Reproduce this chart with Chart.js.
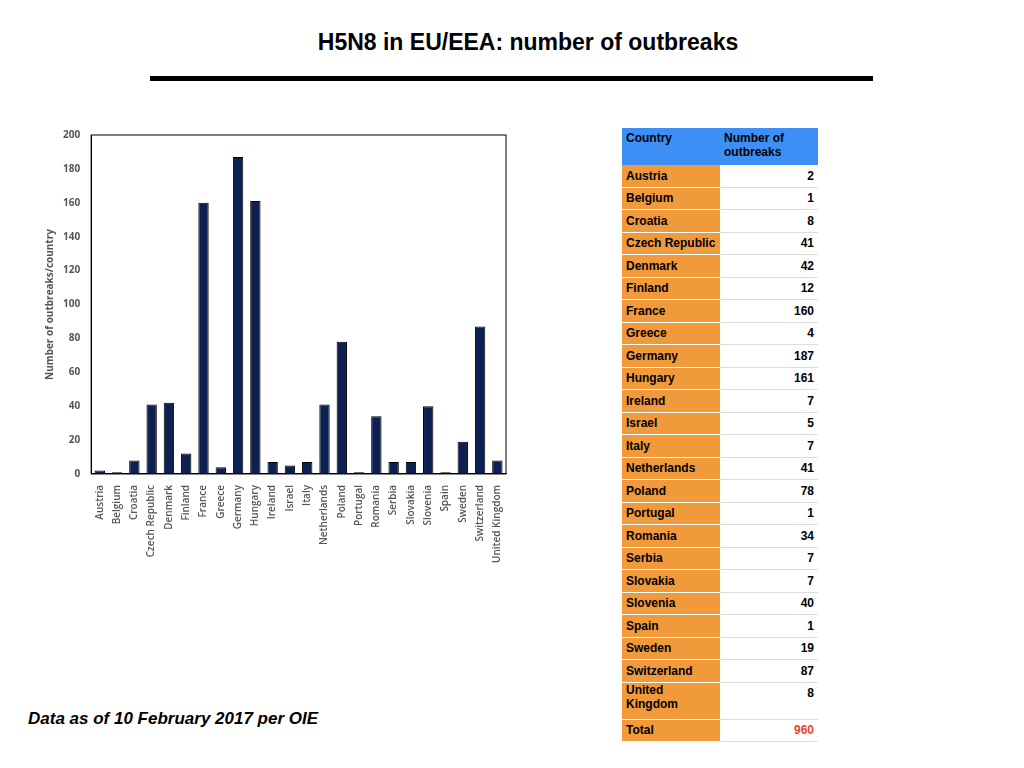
<!DOCTYPE html>
<html><head><meta charset="utf-8">
<script src="https://cdn.jsdelivr.net/npm/chart.js@4"></script>
<style>
body{margin:0;width:1024px;height:768px;background:#fff;font-family:"Liberation Sans",Arial,sans-serif;position:relative;overflow:hidden}
#title{position:absolute;left:0;width:1056px;top:29px;text-align:center;font-weight:bold;font-size:23px}
#rule{position:absolute;left:150px;top:76px;width:723px;height:5px;background:#000}
#cw{position:absolute;left:40px;top:126px;width:480px;height:440px}
#foot{position:absolute;left:28px;top:709px;font-weight:bold;font-style:italic;font-size:17px}
table{position:absolute;left:622px;top:128px;border-collapse:collapse;font-size:12px;font-weight:bold}
td{height:21.5px;padding:0 4px;border-bottom:1px solid #ddd;vertical-align:middle}
td.c{background:#f09a3c;width:90px;border-bottom:1px solid #fff}
td.v{width:90px;text-align:right}
th{background:#3d8ff5;text-align:left;vertical-align:top;padding:3px 4px;height:31px;font-weight:bold}
</style></head><body>
<div id="title">H5N8 in EU/EEA: number of outbreaks</div>
<div id="rule"></div>
<div id="cw"><canvas id="c" width="480" height="440"></canvas></div>
<div id="foot">Data as of 10 February 2017 per OIE</div>
<table id="t"></table>
<script>
const countries=["Austria","Belgium","Croatia","Czech Republic","Denmark","Finland","France","Greece","Germany","Hungary","Ireland","Israel","Italy","Netherlands","Poland","Portugal","Romania","Serbia","Slovakia","Slovenia","Spain","Sweden","Switzerland","United Kingdom"];
const outbreaks=[2,1,8,41,42,12,160,4,187,161,7,5,7,41,78,1,34,7,7,40,1,19,87,8];
const total=960;
let h='<tr><th>Country</th><th>Number of<br>outbreaks</th></tr>';
countries.forEach((c,i)=>{
 const uk=c==="United Kingdom";
 h+=`<tr><td class="c" style="${uk?'height:36px;vertical-align:top':''}">${uk?'United<br>Kingdom':c}</td><td class="v" style="${uk?'vertical-align:top;padding-top:3px':''}">${outbreaks[i]}</td></tr>`;
});
h+=`<tr><td class="c">Total</td><td class="v" style="color:#e8452c">${total}</td></tr>`;
document.getElementById('t').innerHTML=h;
new Chart(document.getElementById('c'),{type:'bar',
data:{labels:countries,datasets:[{data:outbreaks,backgroundColor:'#0e1f52',borderColor:'#000',borderWidth:1,barPercentage:0.6,categoryPercentage:1}]},
options:{responsive:false,maintainAspectRatio:false,animation:false,
plugins:{legend:{display:false},tooltip:{enabled:false}},
layout:{padding:{top:6,right:14}},
scales:{
y:{min:0,max:200,ticks:{stepSize:20,color:'#555',font:{size:10,weight:'bold',family:'Open Sans'}},grid:{display:false},border:{color:'#000'},
 title:{display:true,text:'Number of outbreaks/country',color:'#555',font:{size:10,weight:'bold',family:'Open Sans'}}},
x:{ticks:{color:'#555',autoSkip:false,maxRotation:90,minRotation:90,font:{size:10,weight:'600',family:'Open Sans'}},grid:{display:false},border:{color:'#000'}}
}},
plugins:[{id:'box',afterDraw(c){const a=c.chartArea,x=c.ctx;x.save();x.strokeStyle='#000';x.lineWidth=1;x.strokeRect(a.left,a.top,a.right-a.left,a.bottom-a.top);x.restore();}}]
});
</script>
</body></html>
